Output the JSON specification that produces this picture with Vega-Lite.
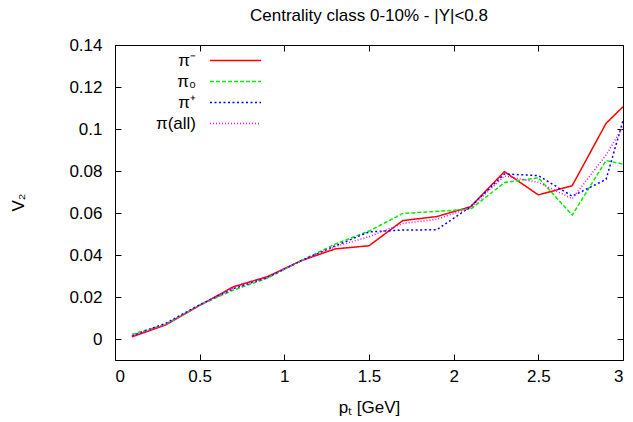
{
  "$schema": "https://vega.github.io/schema/vega-lite/v6.json",
  "width": 508,
  "height": 315,
  "autosize": "none",
  "padding": {"left": 115, "top": 45, "right": 10, "bottom": 62},
  "background": "white",
  "config": {
    "font": "Liberation Sans",
    "view": {"stroke": "black", "strokeWidth": 1},
    "axis": {
      "grid": false,
      "domain": false,
      "labelColor": "black",
      "titleColor": "black",
      "labelFontSize": 17,
      "titleFontSize": 17,
      "titleFontWeight": "normal"
    }
  },
  "title": {
    "text": "Centrality class 0-10% - |Y|<0.8",
    "fontSize": 17,
    "fontWeight": "normal",
    "color": "black",
    "offset": 11
  },
  "data": {
    "values": [
      {"pt": 0.1, "v2": 0.001, "s": "π⁻"},
      {"pt": 0.3, "v2": 0.0067, "s": "π⁻"},
      {"pt": 0.5, "v2": 0.016, "s": "π⁻"},
      {"pt": 0.7, "v2": 0.0249, "s": "π⁻"},
      {"pt": 0.9, "v2": 0.0297, "s": "π⁻"},
      {"pt": 1.1, "v2": 0.0373, "s": "π⁻"},
      {"pt": 1.3, "v2": 0.0429, "s": "π⁻"},
      {"pt": 1.5, "v2": 0.0444, "s": "π⁻"},
      {"pt": 1.7, "v2": 0.0564, "s": "π⁻"},
      {"pt": 1.9, "v2": 0.0583, "s": "π⁻"},
      {"pt": 2.1, "v2": 0.063, "s": "π⁻"},
      {"pt": 2.3, "v2": 0.0797, "s": "π⁻"},
      {"pt": 2.5, "v2": 0.0686, "s": "π⁻"},
      {"pt": 2.7, "v2": 0.073, "s": "π⁻"},
      {"pt": 2.9, "v2": 0.1027, "s": "π⁻"},
      {"pt": 3.0, "v2": 0.1106, "s": "π⁻"},
      {"pt": 0.1, "v2": 0.0022, "s": "π₀"},
      {"pt": 0.3, "v2": 0.007, "s": "π₀"},
      {"pt": 0.5, "v2": 0.0162, "s": "π₀"},
      {"pt": 0.7, "v2": 0.0233, "s": "π₀"},
      {"pt": 0.9, "v2": 0.029, "s": "π₀"},
      {"pt": 1.1, "v2": 0.0373, "s": "π₀"},
      {"pt": 1.3, "v2": 0.0452, "s": "π₀"},
      {"pt": 1.5, "v2": 0.0514, "s": "π₀"},
      {"pt": 1.7, "v2": 0.0598, "s": "π₀"},
      {"pt": 1.9, "v2": 0.0608, "s": "π₀"},
      {"pt": 2.1, "v2": 0.0618, "s": "π₀"},
      {"pt": 2.3, "v2": 0.0745, "s": "π₀"},
      {"pt": 2.5, "v2": 0.0768, "s": "π₀"},
      {"pt": 2.7, "v2": 0.059, "s": "π₀"},
      {"pt": 2.9, "v2": 0.085, "s": "π₀"},
      {"pt": 3.0, "v2": 0.0833, "s": "π₀"},
      {"pt": 0.1, "v2": 0.0015, "s": "π⁺"},
      {"pt": 0.3, "v2": 0.0075, "s": "π⁺"},
      {"pt": 0.5, "v2": 0.0163, "s": "π⁺"},
      {"pt": 0.7, "v2": 0.024, "s": "π⁺"},
      {"pt": 0.9, "v2": 0.0293, "s": "π⁺"},
      {"pt": 1.1, "v2": 0.0373, "s": "π⁺"},
      {"pt": 1.3, "v2": 0.0443, "s": "π⁺"},
      {"pt": 1.5, "v2": 0.051, "s": "π⁺"},
      {"pt": 1.7, "v2": 0.0519, "s": "π⁺"},
      {"pt": 1.9, "v2": 0.052, "s": "π⁺"},
      {"pt": 2.1, "v2": 0.063, "s": "π⁺"},
      {"pt": 2.3, "v2": 0.0786, "s": "π⁺"},
      {"pt": 2.5, "v2": 0.0778, "s": "π⁺"},
      {"pt": 2.7, "v2": 0.068, "s": "π⁺"},
      {"pt": 2.9, "v2": 0.076, "s": "π⁺"},
      {"pt": 3.0, "v2": 0.104, "s": "π⁺"},
      {"pt": 0.1, "v2": 0.0015, "s": "π(all)"},
      {"pt": 0.3, "v2": 0.007, "s": "π(all)"},
      {"pt": 0.5, "v2": 0.016, "s": "π(all)"},
      {"pt": 0.7, "v2": 0.0243, "s": "π(all)"},
      {"pt": 0.9, "v2": 0.0293, "s": "π(all)"},
      {"pt": 1.1, "v2": 0.0373, "s": "π(all)"},
      {"pt": 1.3, "v2": 0.044, "s": "π(all)"},
      {"pt": 1.5, "v2": 0.0487, "s": "π(all)"},
      {"pt": 1.7, "v2": 0.055, "s": "π(all)"},
      {"pt": 1.9, "v2": 0.057, "s": "π(all)"},
      {"pt": 2.1, "v2": 0.0625, "s": "π(all)"},
      {"pt": 2.3, "v2": 0.0776, "s": "π(all)"},
      {"pt": 2.5, "v2": 0.0746, "s": "π(all)"},
      {"pt": 2.7, "v2": 0.0668, "s": "π(all)"},
      {"pt": 2.9, "v2": 0.0876, "s": "π(all)"},
      {"pt": 3.0, "v2": 0.101, "s": "π(all)"}
    ]
  },
  "layer": [
    {
      "mark": {"type": "line", "clip": true},
      "encoding": {
        "x": {
          "field": "pt", "type": "quantitative",
          "scale": {"domain": [0, 3], "nice": false, "zero": false},
          "axis": {"orient": "bottom", "values": [0, 0.5, 1, 1.5, 2, 2.5, 3], "format": "~g",
                   "ticks": true, "tickSize": -6, "tickWidth": 1, "tickColor": "black",
                   "labelPadding": 14, "title": "pₜ [GeV]", "titleX": 254, "titleY": 47,
                   "titleBaseline": "middle", "titleAlign": "center"}
        },
        "y": {
          "field": "v2", "type": "quantitative",
          "scale": {"domain": [-0.01, 0.14], "nice": false, "zero": false},
          "axis": {"orient": "left", "values": [0, 0.02, 0.04, 0.06, 0.08, 0.1, 0.12, 0.14], "format": "~g",
                   "ticks": true, "tickSize": -6, "tickWidth": 1, "tickColor": "black",
                   "labelPadding": 19, "title": "V₂", "titleX": -97, "titleY": 157,
                   "titleBaseline": "middle", "titleAlign": "center"}
        },
        "color": {
          "field": "s", "type": "nominal", "sort": null,
          "scale": {"domain": ["π⁻", "π₀", "π⁺", "π(all)"], "range": ["#ff0000", "#00ee00", "#0000ff", "#ff00ff"]},
          "legend": {
            "title": null, "orient": "none", "legendX": 112, "legendY": 7,
            "symbolType": "M-5.1,0H5.1", "symbolSize": 100, "symbolStrokeWidth": 1.5,
            "labelFontSize": 17, "labelColor": "black", "labelAlign": "right", "labelOffset": -48,
            "rowPadding": 3, "padding": 0
          }
        },
        "strokeDash": {
          "field": "s", "type": "nominal", "sort": null,
          "scale": {"domain": ["π⁻", "π₀", "π⁺", "π(all)"], "range": [[1, 0], [4, 2], [2, 2.5], [1, 2]]},
          "legend": {
            "title": null, "orient": "none", "legendX": 112, "legendY": 7,
            "symbolType": "M-5.1,0H5.1", "symbolSize": 100, "symbolStrokeWidth": 1.5,
            "labelFontSize": 17, "labelColor": "black", "labelAlign": "right", "labelOffset": -48,
            "rowPadding": 3, "padding": 0
          }
        },
        "strokeWidth": {"value": 1.5}
      }
    },
    {
      "mark": {"type": "line", "opacity": 0},
      "encoding": {
        "x": {"field": "pt", "type": "quantitative",
              "axis": {"orient": "top", "values": [0, 0.5, 1, 1.5, 2, 2.5, 3], "labels": false, "title": null,
                       "ticks": true, "tickSize": -6, "tickWidth": 1, "tickColor": "black"}},
        "y": {"field": "v2", "type": "quantitative",
              "axis": {"orient": "right", "values": [0, 0.02, 0.04, 0.06, 0.08, 0.1, 0.12, 0.14], "labels": false, "title": null,
                       "ticks": true, "tickSize": -6, "tickWidth": 1, "tickColor": "black"}},
        "detail": {"field": "s"}
      }
    }
  ],
  "resolve": {"axis": {"x": "independent", "y": "independent"}}
}
